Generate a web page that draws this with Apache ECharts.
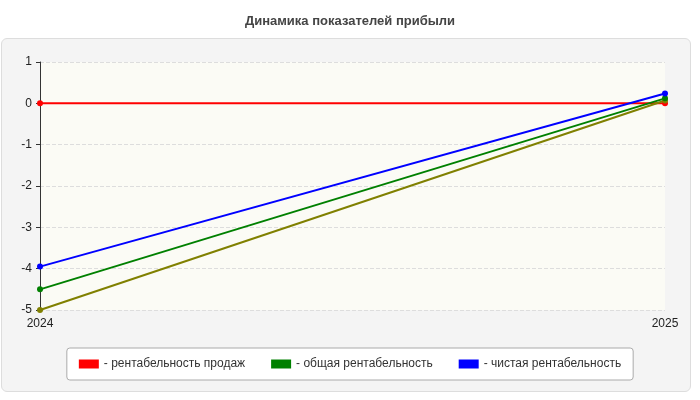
<!DOCTYPE html>
<html><head><meta charset="utf-8">
<script src="https://cdn.jsdelivr.net/npm/echarts@6/dist/echarts.min.js"></script>
<style>body{margin:0;background:#fff}#panel{position:absolute;left:1px;top:38px;width:688px;height:352px;background:#f4f4f4;border:1px solid #ddd;border-radius:6px}#c{position:absolute;left:0;top:0;width:700px;height:400px}</style>
</head><body><div id="panel"></div><div id="c"></div>
<script>
const categories = ['2024', '2025'];
const salesProfit = [0, 0];
const totalProfit = [-4.5, 0.12];
const netProfit = [-3.95, 0.24];
const extraSeries = [-5, 0.07];
const yTicks = [-5, 1];
const chart = echarts.init(document.getElementById('c'));
function s(name, data, color) {
  return {name, type:'line', data, symbol:'circle', symbolSize:6, lineStyle:{width:2,color}, itemStyle:{color}};
}
chart.setOption({
  title:{text:'Динамика показателей прибыли',left:'center',top:10,textStyle:{fontSize:13,fontWeight:'bold',color:'#444',fontFamily:'Liberation Sans'}},
  grid:{left:40,right:35,top:62,bottom:90,show:true,backgroundColor:'#fbfbf5',borderColor:'#ccc',borderWidth:0},
  legend:{bottom:20,left:'center',data:['- рентабельность продаж','- общая рентабельность','- чистая рентабельность'],
    icon:'rect',itemWidth:20,itemHeight:9,itemGap:26,padding:[10,12],backgroundColor:'#fff',borderColor:'#aaa',borderWidth:1,borderRadius:3,
    textStyle:{fontSize:12,color:'#333',fontFamily:'Liberation Sans'}},
  xAxis:{type:'category',data:categories,boundaryGap:false,axisTick:{show:false},axisLine:{lineStyle:{color:'#333'}},
    axisLabel:{color:'#222',fontSize:12,fontFamily:'Liberation Sans',showMaxLabel:true}},
  yAxis:{type:'value',min:yTicks[0],max:yTicks[1],interval:1,axisLine:{show:true,lineStyle:{color:'#333'}},axisTick:{show:true,length:4},
    axisLabel:{color:'#222',fontSize:12,fontFamily:'Liberation Sans'},splitLine:{lineStyle:{type:'dashed',color:'#ddd'}}},
  series:[
    s('- рентабельность продаж',salesProfit,'#ff0000'),
    s('extra',extraSeries,'#808000'),
    s('- общая рентабельность',totalProfit,'#008000'),
    s('- чистая рентабельность',netProfit,'#0000ff')
  ]
});
</script></body></html>
